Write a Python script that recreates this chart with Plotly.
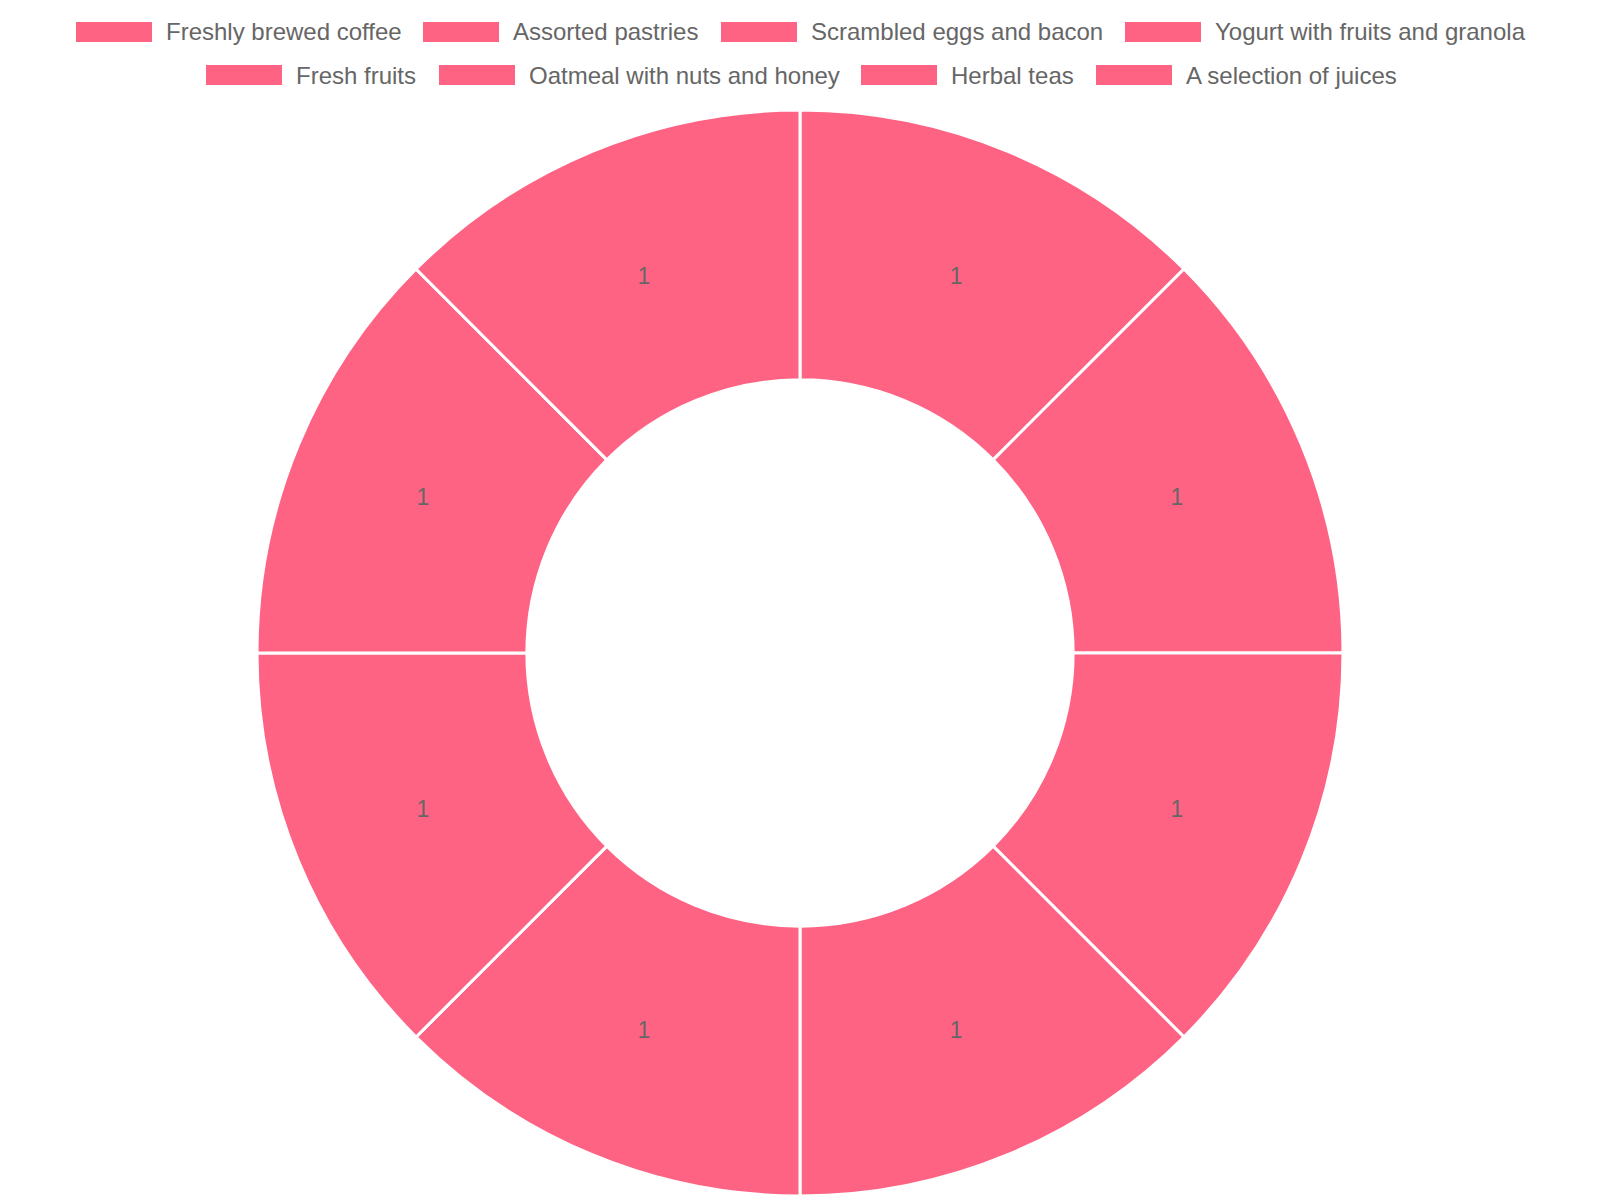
import plotly.graph_objects as go

categories = ["Freshly brewed coffee", "Assorted pastries", "Scrambled eggs and bacon",
              "Yogurt with fruits and granola", "Fresh fruits", "Oatmeal with nuts and honey",
              "Herbal teas", "A selection of juices"]
values = [1, 1, 1, 1, 1, 1, 1, 1]

COLOR = "#FF6384"
W, H = 1600, 1200
FONT = "Liberation Sans, Arial, sans-serif"

fig = go.Figure(go.Pie(
    labels=categories, values=values,
    hole=0.503, sort=False, direction="clockwise", rotation=0,
    marker=dict(colors=[COLOR] * len(values), line=dict(color="white", width=3)),
    textinfo="value", textposition="inside", insidetextorientation="horizontal",
    textfont=dict(family=FONT, size=23, color="#666666"),
    hoverinfo="label+value",
    showlegend=False,
    domain=dict(x=[257 / W, 1343 / W], y=[4 / H, 1090 / H]),
))

# Chart.js-style legend: wide boxes + labels, two centered rows
legend_rows = [[0, 1, 2, 3], [4, 5, 6, 7]]
row_box_x = [[76, 423, 721, 1125], [206, 439, 861, 1096]]
row_y = [32, 75]
shapes, annotations = [], []
for row, xs, yc in zip(legend_rows, row_box_x, row_y):
    for idx, bx in zip(row, xs):
        shapes.append(dict(type="rect", xref="paper", yref="paper",
                           x0=bx / W, x1=(bx + 76) / W,
                           y0=1 - (yc + 10) / H, y1=1 - (yc - 10) / H,
                           fillcolor=COLOR, line=dict(width=0)))
        annotations.append(dict(text=categories[idx], xref="paper", yref="paper",
                                x=(bx + 88) / W, y=1 - yc / H, xanchor="left", yanchor="middle",
                                showarrow=False,
                                font=dict(family=FONT, size=24, color="#666666")))

fig.update_layout(width=W, height=H, margin=dict(l=0, r=0, t=0, b=0),
                  paper_bgcolor="white", plot_bgcolor="white",
                  shapes=shapes, annotations=annotations)

fig.write_html("out.html")
